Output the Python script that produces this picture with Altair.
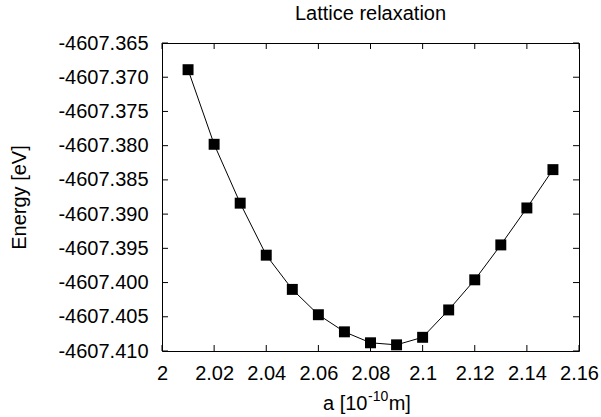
import altair as alt
import pandas as pd

# ---- data ----
a_vals = [2.01, 2.02, 2.03, 2.04, 2.05, 2.06, 2.07, 2.08, 2.09, 2.10,
          2.11, 2.12, 2.13, 2.14, 2.15]
energy = [-4607.3689, -4607.3798, -4607.3884, -4607.3960, -4607.4010,
          -4607.4047, -4607.4072, -4607.4088, -4607.4091, -4607.4080,
          -4607.4040, -4607.3996, -4607.3945, -4607.3891, -4607.3835]
x_ticks = [2.0, 2.02, 2.04, 2.06, 2.08, 2.1, 2.12, 2.14, 2.16]
y_ticks = [-4607.365, -4607.370, -4607.375, -4607.380, -4607.385,
           -4607.390, -4607.395, -4607.400, -4607.405, -4607.410]
title_text = "Lattice relaxation"
x_title_parts = ["a [10", "-10", "m]"]
y_title = "Energy [eV]"

FONT = "Liberation Sans"
FS = 20
FS_SUP = 14
W, H = 417, 308
TICK = 6

df = pd.DataFrame({"a": a_vals, "E": energy})
xt = pd.DataFrame({"t": x_ticks})
yt = pd.DataFrame({"t": y_ticks})

xscale = alt.Scale(domain=[2.0, 2.16], nice=False, zero=False)
yscale = alt.Scale(domain=[-4607.410, -4607.365], nice=False, zero=False)

x_axis = alt.Axis(values=x_ticks, format="~g", title=None, grid=False,
                  domain=False, ticks=False, tickSize=0, labelPadding=12,
                  labelFlush=False, labelOverlap=False,
                  labelFont=FONT, labelFontSize=FS, labelColor="black")
y_axis = alt.Axis(values=y_ticks, title=y_title, grid=False,
                  labelExpr="replace(format(datum.value, '.3f'), '−', '-')",
                  domain=False, ticks=False, tickSize=0, labelPadding=14,
                  labelFlush=False, labelOverlap=False,
                  labelFont=FONT, labelFontSize=FS, labelColor="black",
                  titleFont=FONT, titleFontSize=FS, titleFontWeight="normal",
                  titleColor="black", titleX=-143, titleY=H / 2,
                  titleAngle=270, titleAlign="center", titleBaseline="middle")

base = alt.Chart(df)
line = base.mark_line(color="black", strokeWidth=1).encode(
    x=alt.X("a:Q", scale=xscale, axis=x_axis),
    y=alt.Y("E:Q", scale=yscale, axis=y_axis),
)
points = base.mark_point(shape="square", filled=True, size=120,
                         color="black", opacity=1).encode(
    x=alt.X("a:Q", scale=xscale, axis=x_axis),
    y=alt.Y("E:Q", scale=yscale, axis=y_axis),
)

xtick_top = alt.Chart(xt).mark_rule(color="black", strokeWidth=1).encode(
    x=alt.X("t:Q", scale=xscale, axis=x_axis), y=alt.value(0), y2=alt.value(TICK))
xtick_bot = alt.Chart(xt).mark_rule(color="black", strokeWidth=1).encode(
    x=alt.X("t:Q", scale=xscale, axis=x_axis), y=alt.value(H), y2=alt.value(H - TICK))
ytick_left = alt.Chart(yt).mark_rule(color="black", strokeWidth=1).encode(
    y=alt.Y("t:Q", scale=yscale, axis=y_axis), x=alt.value(0), x2=alt.value(TICK))
ytick_right = alt.Chart(yt).mark_rule(color="black", strokeWidth=1).encode(
    y=alt.Y("t:Q", scale=yscale, axis=y_axis), x=alt.value(W), x2=alt.value(W - TICK))

title = alt.Chart(pd.DataFrame({"t": [title_text]})).mark_text(
    font=FONT, fontSize=FS, align="center", baseline="alphabetic", color="black"
).encode(x=alt.value(W / 2), y=alt.value(-23), text="t:N")

# x-axis title with a real superscript, built from three text pieces
X0 = 161
main_w = 2.224 * FS
sup_w = 1.445 * FS_SUP
xt1 = alt.Chart(pd.DataFrame({"t": [x_title_parts[0]]})).mark_text(
    font=FONT, fontSize=FS, align="left", baseline="alphabetic", color="black"
).encode(x=alt.value(X0), y=alt.value(H + 59), text="t:N")
xt2 = alt.Chart(pd.DataFrame({"t": [x_title_parts[1]]})).mark_text(
    font=FONT, fontSize=FS_SUP, align="left", baseline="alphabetic", color="black"
).encode(x=alt.value(X0 + main_w + 0.5), y=alt.value(H + 50), text="t:N")
xt3 = alt.Chart(pd.DataFrame({"t": [x_title_parts[2]]})).mark_text(
    font=FONT, fontSize=FS, align="left", baseline="alphabetic", color="black"
).encode(x=alt.value(X0 + main_w + sup_w + 1), y=alt.value(H + 59), text="t:N")

chart = alt.layer(line, points, xtick_top, xtick_bot, ytick_left, ytick_right,
                  title, xt1, xt2, xt3).properties(
    width=W, height=H,
    autosize=alt.AutoSizeParams(type="none"),
    padding={"left": 162, "top": 43, "right": 22, "bottom": 66},
    background="white",
).configure_view(stroke="black", strokeWidth=1)

chart.save("out.html", embed_options={"renderer": "svg", "actions": False})
